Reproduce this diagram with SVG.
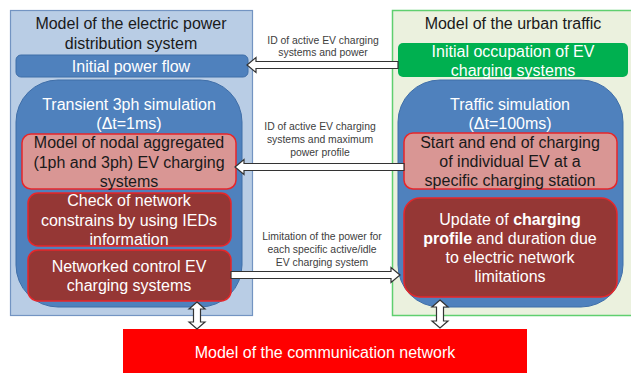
<svg xmlns="http://www.w3.org/2000/svg" width="631" height="373" viewBox="0 0 631 373">
<style>
text{font-family:"Liberation Sans",Arial,sans-serif;text-anchor:middle}
.t16{font-size:16px}
.dk{fill:#1a1a1a}
.wh{fill:#ffffff}
.lbl{font-size:10.4px;fill:#404040}
.blue{fill:#4f81bd;stroke:#3f6ea8;stroke-width:1}
.pink{fill:#d99694;stroke:#e8262a;stroke-width:1.5}
.dred{fill:#953735;stroke:#e8262a;stroke-width:1.5}
.arr{fill:#ffffff;stroke:#333333;stroke-width:1.2;stroke-linejoin:miter}
</style>
<rect width="631" height="373" fill="#ffffff"/>
<g id="electric-model">
<rect x="10.5" y="10.5" width="242" height="305" fill="#b9cde5" stroke="#7394c2" stroke-width="1.2"/>
<text class="t16 dk" x="131" y="29">Model of the electric power</text>
<text class="t16 dk" x="131" y="48.5">distribution system</text>
</g>
<g id="initial-power-flow">
<rect x="16" y="55" width="232" height="22" rx="5" class="blue"/>
<text class="t16 wh" x="131" y="72">Initial power flow</text>
</g>
<g id="transient-sim">
<rect x="16" y="80" width="226" height="227" rx="42" class="blue"/>
<text class="t16 wh" x="129" y="110">Transient 3ph simulation</text>
<text class="t16 wh" x="129" y="129">(Δt=1ms)</text>
</g>
<g id="nodal-model">
<rect x="22" y="134" width="214" height="55" rx="9" class="pink"/>
<text class="t16 dk" x="129" y="148">Model of nodal aggregated</text>
<text class="t16 dk" x="129" y="167.5">(1ph and 3ph) EV charging</text>
<text class="t16 dk" x="129" y="187">systems</text>
</g>
<g id="check-network">
<rect x="28" y="193" width="203" height="53" rx="10" class="dred"/>
<text class="t16 wh" x="129" y="206">Check of network</text>
<text class="t16 wh" x="129" y="225.5">constrains by using IEDs</text>
<text class="t16 wh" x="129" y="245">information</text>
</g>
<g id="networked-control">
<rect x="28" y="250" width="203" height="51" rx="10" class="dred"/>
<text class="t16 wh" x="129" y="272">Networked control EV</text>
<text class="t16 wh" x="129" y="291">charging systems</text>
</g>
<g id="traffic-model">
<rect x="392.5" y="10.5" width="240" height="305" fill="#ebf1de" stroke="#5fcf6f" stroke-width="1.5"/>
<text class="t16 dk" x="513" y="28.5">Model of the urban traffic</text>
</g>
<g id="initial-occupation">
<rect x="398" y="43" width="230" height="34" rx="5" fill="#00b050"/>
<text class="t16 wh" x="513" y="57">Initial occupation of EV</text>
<text class="t16 wh" x="513" y="75.5">charging systems</text>
</g>
<g id="traffic-sim">
<rect x="398" y="80" width="225" height="227" rx="42" class="blue"/>
<text class="t16 wh" x="510" y="110">Traffic simulation</text>
<text class="t16 wh" x="510" y="129">(Δt=100ms)</text>
</g>
<g id="start-end-charging">
<rect x="404" y="133" width="213" height="56" rx="9" class="pink"/>
<text class="t16 dk" x="510" y="148">Start and end of charging</text>
<text class="t16 dk" x="510" y="167">of individual EV at a</text>
<text class="t16 dk" x="510" y="186">specific charging station</text>
</g>
<g id="update-profile">
<rect x="404" y="198" width="213" height="99" rx="16" class="dred"/>
<text class="t16 wh" x="510" y="225">Update of <tspan font-weight="bold">charging</tspan></text>
<text class="t16 wh" x="510" y="244"><tspan font-weight="bold">profile</tspan> and duration due</text>
<text class="t16 wh" x="510" y="263">to electric network</text>
<text class="t16 wh" x="510" y="282">limitations</text>
</g>
<g id="communication-model">
<rect x="123" y="329" width="404" height="44" fill="#ff0000"/>
<text class="t16 wh" x="325" y="358">Model of the communication network</text>
</g>
<g id="connectors">
<path class="arr" d="M247,65 L256,57.5 L256,61.5 L398,61.5 L398,68.5 L256,68.5 L256,72.5 Z"/>
<text class="lbl" x="323" y="44">ID of active  EV charging</text>
<text class="lbl" x="323" y="56">systems  and power</text>
<path class="arr" d="M235,167 L244,159.5 L244,163.5 L404,163.5 L404,170.5 L244,170.5 L244,174.5 Z"/>
<text class="lbl" x="320" y="129.5">ID of active  EV charging</text>
<text class="lbl" x="320" y="142.5">systems  and maximum</text>
<text class="lbl" x="320" y="155.5">power profile</text>
<path class="arr" d="M400,275 L391,267.5 L391,271.5 L231,271.5 L231,278.5 L391,278.5 L391,282.5 Z"/>
<text class="lbl" x="322" y="240">Limitation of the power for</text>
<text class="lbl" x="322" y="253">each specific active/idle</text>
<text class="lbl" x="322" y="265.5">EV charging system</text>
<path class="arr" d="M197,302 L205,309 L200.5,309 L200.5,322 L205,322 L197,329 L189,322 L193.5,322 L193.5,309 L189,309 Z"/>
<path class="arr" d="M440,300 L448,307 L443.5,307 L443.5,321 L448,321 L440,328 L432,321 L436.5,321 L436.5,307 L432,307 Z"/>
</g>
</svg>
